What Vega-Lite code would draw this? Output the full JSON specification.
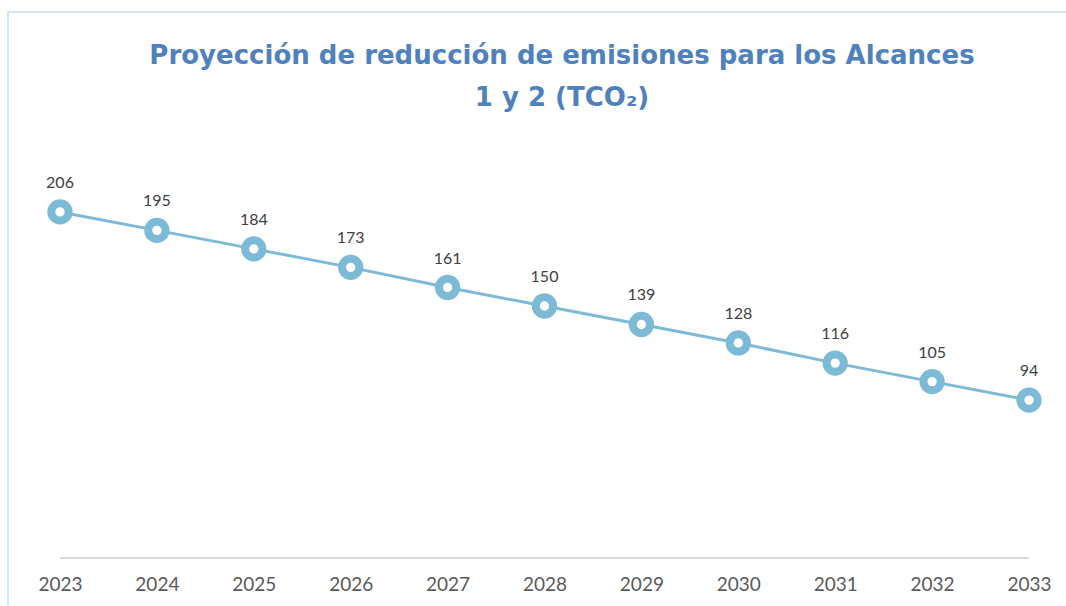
{
  "$schema": "https://vega.github.io/schema/vega-lite/v6.json",
  "width": 1060,
  "height": 596,
  "autosize": "none",
  "padding": {"left": 8, "top": 12, "right": 0, "bottom": 0},
  "background": "white",
  "view": {"stroke": "#d4e5f4", "strokeWidth": 2},
  "title": {
    "text": ["Proyección de reducción de emisiones para los Alcances", "1 y 2 (TCO₂)"],
    "font": "DejaVu Sans",
    "fontWeight": "bold",
    "fontSize": 26,
    "color": "#4f81bd",
    "anchor": "middle",
    "frame": "group",
    "baseline": "top",
    "lineHeight": 42,
    "dx": 24,
    "dy": 103
  },
  "data": {
    "values": [
      {"year": "2023", "value": 206},
      {"year": "2024", "value": 195},
      {"year": "2025", "value": 184},
      {"year": "2026", "value": 173},
      {"year": "2027", "value": 161},
      {"year": "2028", "value": 150},
      {"year": "2029", "value": 139},
      {"year": "2030", "value": 128},
      {"year": "2031", "value": 116},
      {"year": "2032", "value": 105},
      {"year": "2033", "value": 94}
    ]
  },
  "encoding": {
    "x": {
      "field": "year",
      "type": "ordinal",
      "scale": {"type": "point", "range": [52, 1021], "padding": 0},
      "axis": {
        "title": null,
        "domain": false,
        "ticks": false,
        "grid": false,
        "labelAngle": 0,
        "labelPadding": 0,
        "offset": -18,
        "labelBaseline": "alphabetic",
        "labelFont": "Lato",
        "labelFontSize": 19,
        "labelColor": "#595959"
      }
    },
    "y": {
      "field": "value",
      "type": "quantitative",
      "scale": {"domain": [0, 250], "range": [546, 126]},
      "axis": null
    }
  },
  "layer": [
    {
      "mark": {"type": "rule", "color": "#d9d9d9", "strokeWidth": 2},
      "encoding": {
        "x": {"datum": "2023"},
        "x2": {"datum": "2033"},
        "y": {"datum": 0}
      }
    },
    {
      "mark": {"type": "line", "color": "#7cbad6", "strokeWidth": 3}
    },
    {
      "mark": {"type": "point", "shape": "circle", "filled": true, "fill": "white", "stroke": "#7cbad6", "strokeWidth": 8, "size": 300, "opacity": 1}
    },
    {
      "mark": {"type": "text", "dy": -24, "baseline": "alphabetic", "font": "Lato", "fontSize": 16, "color": "#404040"},
      "encoding": {"text": {"field": "value"}}
    }
  ]
}
